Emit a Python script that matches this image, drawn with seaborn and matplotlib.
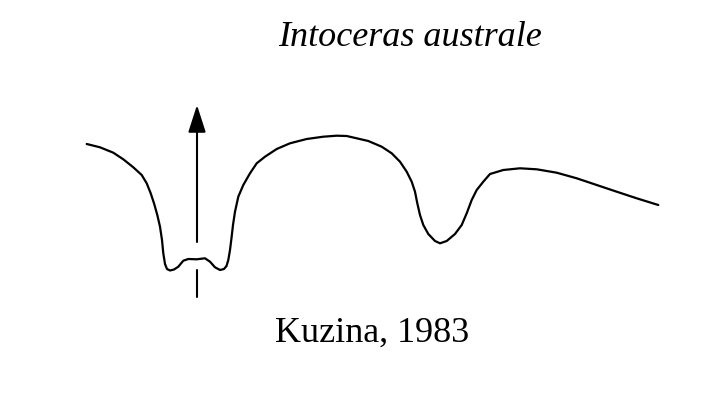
import matplotlib
matplotlib.use("Agg")
import matplotlib.pyplot as plt
import seaborn as sns
import pandas as pd

# Suture line (pixel coordinates, y downward)
suture_x = [86.7, 100.0, 113.3, 123.3, 133.3, 141.7, 146.7, 150.7, 154.0, 157.3,
            160.0, 162.0, 163.3, 165.0, 167.0, 170.0, 174.0, 178.3, 183.3, 188.3,
            196.7, 205.0, 210.0, 215.0, 220.0, 224.0, 226.5, 228.3, 230.0, 231.5,
            233.0, 235.0, 238.3, 243.3, 250.0, 256.7, 265.0, 276.7, 290.0, 306.7,
            323.3, 336.7, 346.7, 356.7, 368.3, 381.7, 391.7, 400.0, 406.7, 411.7,
            415.0, 417.3, 420.0, 423.3, 428.3, 435.0, 440.0, 446.7, 455.0, 461.7,
            466.7, 471.7, 476.7, 483.3, 490.0, 503.3, 520.0, 536.7, 556.7, 576.7,
            596.7, 616.7, 636.7, 658.3]
suture_y = [144.0, 147.3, 152.7, 159.3, 167.3, 175.0, 183.3, 193.3, 203.3, 215.0,
            226.7, 240.0, 253.3, 264.0, 269.0, 270.5, 269.5, 266.7, 260.7, 259.0,
            259.3, 258.3, 261.7, 267.3, 270.0, 269.0, 266.0, 260.0, 250.0, 238.0,
            225.0, 211.7, 196.7, 185.0, 173.3, 163.3, 156.7, 149.0, 143.3, 139.0,
            136.7, 135.7, 136.0, 138.3, 141.0, 146.7, 153.3, 161.7, 171.7, 181.7,
            191.7, 203.3, 215.0, 225.0, 234.0, 241.0, 243.3, 241.0, 234.0, 225.0,
            213.3, 200.0, 190.0, 181.7, 174.0, 170.0, 168.3, 169.3, 172.7, 178.3,
            185.0, 191.7, 198.3, 205.0]

# Siphonal arrow (x, tip y, tail y) and lower stub (y from, y to)
arrow_x = 197
arrow_tip_y = 105
arrow_tail_y = 242
stub_y = [270, 297]

title_text = "Intoceras australe"
author_text = "Kuzina, 1983"

df = pd.DataFrame({"x": suture_x, "y": suture_y})

sns.set_theme(style="white")
plt.rcParams["font.family"] = ["Liberation Serif", "DejaVu Serif"]

fig = plt.figure(figsize=(7.08, 4.01), dpi=100)
ax = fig.add_axes([0, 0, 1, 1])
ax.set_xlim(0, 708)
ax.set_ylim(401, 0)
ax.axis("off")

sns.lineplot(data=df, x="x", y="y", sort=False, estimator=None,
             color="black", lw=1.6, ax=ax,
             solid_joinstyle="round", solid_capstyle="round")

ax.annotate("", xy=(arrow_x, arrow_tip_y), xytext=(arrow_x, arrow_tail_y),
            arrowprops=dict(arrowstyle="-|>,head_length=1.4,head_width=0.45",
                            color="black", lw=1.5, shrinkA=0, shrinkB=0))
ax.plot([arrow_x, arrow_x], stub_y, color="black", lw=1.5)

ax.text(410, 37, title_text, fontsize=26, style="italic",
        ha="center", va="center", color="black")
ax.text(372, 333, author_text, fontsize=26,
        ha="center", va="center", color="black")

fig.savefig("out.png", dpi=100, facecolor="white")
